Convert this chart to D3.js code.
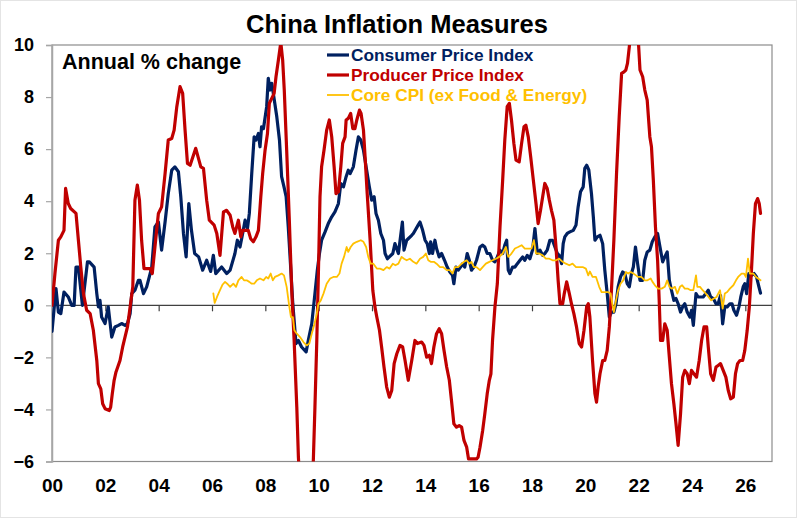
<!DOCTYPE html>
<html>
<head>
<meta charset="utf-8">
<script src="https://cdn.jsdelivr.net/npm/d3@7"></script>
<style>
  html, body { margin: 0; padding: 0; background: #fff; }
  svg { display: block; font-family: "Liberation Sans", Arial, sans-serif; }
</style>
</head>
<body>
<svg id="chart" width="797" height="518"></svg>
<script>
// ---- DATA (year offset from 2000, annual % change) ----
const cpi = [[0.0,-1.0],[0.15,0.64],[0.24,-0.26],[0.33,-0.32],[0.45,0.51],[0.61,0.32],[0.74,0.0],[0.83,0.0],[0.9,1.47],[0.99,1.47],[1.14,0.0],[1.33,1.67],[1.4,1.67],[1.58,1.47],[1.68,0.45],[1.74,-0.06],[1.8,0.19],[1.86,-0.45],[1.99,-0.7],[2.11,-0.06],[2.24,-1.22],[2.36,-0.83],[2.49,-0.77],[2.61,-0.7],[2.74,-0.77],[2.83,-0.7],[2.93,-0.32],[2.99,0.45],[3.11,0.58],[3.24,0.96],[3.3,0.96],[3.43,0.45],[3.55,0.71],[3.68,1.22],[3.74,1.47],[3.86,3.01],[3.99,3.2],[4.11,2.12],[4.24,3.2],[4.36,4.29],[4.49,5.19],[4.61,5.32],[4.74,5.13],[4.83,4.17],[4.93,2.76],[5.03,1.86],[5.13,3.91],[5.23,2.88],[5.35,1.99],[5.5,1.86],[5.65,1.35],[5.8,1.73],[5.95,1.3],[6.05,1.92],[6.14,1.22],[6.36,1.47],[6.55,1.22],[6.68,1.35],[6.86,1.99],[6.95,2.5],[7.05,2.24],[7.15,2.76],[7.24,3.27],[7.33,2.95],[7.4,3.53],[7.49,5.06],[7.58,6.47],[7.65,6.35],[7.74,6.6],[7.8,6.09],[7.86,6.86],[7.93,6.79],[8.05,7.63],[8.11,8.72],[8.18,8.27],[8.24,8.53],[8.3,8.14],[8.43,7.24],[8.53,6.35],[8.61,4.94],[8.7,4.55],[8.78,4.17],[8.86,3.01],[8.95,1.47],[9.03,0.06],[9.15,-1.47],[9.24,-1.35],[9.36,-1.6],[9.53,-1.79],[9.61,-1.35],[9.74,-0.71],[9.86,0.45],[9.95,1.35],[10.03,1.99],[10.11,2.5],[10.24,2.82],[10.36,3.14],[10.49,3.4],[10.61,3.59],[10.74,3.91],[10.83,4.68],[10.93,4.55],[11.03,4.94],[11.11,5.19],[11.18,5.06],[11.3,5.32],[11.4,5.96],[11.49,6.47],[11.58,6.35],[11.68,5.96],[11.8,5.19],[11.9,4.55],[11.99,4.04],[12.08,4.17],[12.15,3.53],[12.24,3.27],[12.33,2.76],[12.43,2.5],[12.49,1.99],[12.58,1.79],[12.78,1.99],[12.86,2.37],[12.99,1.99],[13.14,3.2],[13.2,2.12],[13.3,2.5],[13.49,2.69],[13.55,2.76],[13.73,3.08],[13.8,3.2],[13.9,2.88],[13.99,2.5],[14.07,2.37],[14.15,1.99],[14.2,2.44],[14.27,1.99],[14.36,2.5],[14.42,2.18],[14.52,1.86],[14.61,1.99],[14.72,1.73],[14.82,1.47],[14.92,1.28],[15.02,1.15],[15.07,0.83],[15.15,1.47],[15.23,1.35],[15.32,1.47],[15.4,1.6],[15.48,1.47],[15.57,1.99],[15.65,1.73],[15.73,1.35],[15.82,1.47],[15.92,1.73],[16.05,2.24],[16.15,2.31],[16.23,2.24],[16.32,1.99],[16.42,1.99],[16.52,1.73],[16.61,1.67],[16.7,1.86],[16.8,2.12],[16.9,1.99],[16.98,2.31],[17.05,2.5],[17.11,1.35],[17.17,1.22],[17.27,1.47],[17.36,1.47],[17.45,1.6],[17.55,1.73],[17.65,1.86],[17.73,1.73],[17.82,1.92],[17.92,1.79],[18.02,2.12],[18.11,2.95],[18.2,1.99],[18.3,2.12],[18.4,1.92],[18.48,1.99],[18.57,2.12],[18.67,2.5],[18.77,2.5],[18.86,2.24],[18.95,1.99],[19.02,1.92],[19.11,1.6],[19.17,2.37],[19.23,2.63],[19.32,2.76],[19.42,2.82],[19.55,2.88],[19.65,3.08],[19.73,3.78],[19.82,4.36],[19.92,4.55],[19.98,5.26],[20.05,5.38],[20.13,5.2],[20.23,4.29],[20.3,3.4],[20.36,2.5],[20.45,2.63],[20.55,2.69],[20.65,2.37],[20.73,1.35],[20.82,0.45],[20.9,-0.45],[20.98,-0.26],[21.07,-0.26],[21.15,0.06],[21.23,0.71],[21.32,1.09],[21.4,1.28],[21.48,1.22],[21.57,0.83],[21.65,0.71],[21.73,1.22],[21.8,1.47],[21.88,2.24],[21.96,1.6],[22.05,0.96],[22.15,0.96],[22.23,1.73],[22.32,2.05],[22.42,2.12],[22.51,2.44],[22.61,2.63],[22.71,2.76],[22.8,2.24],[22.9,1.67],[22.98,1.86],[23.07,2.05],[23.15,0.96],[23.23,0.58],[23.32,0.19],[23.4,0.26],[23.48,0.06],[23.57,-0.26],[23.65,-0.06],[23.73,0.06],[23.82,-0.26],[23.92,-0.45],[23.98,-0.19],[24.05,-0.77],[24.15,0.45],[24.23,0.32],[24.32,0.32],[24.42,0.32],[24.52,0.45],[24.61,0.58],[24.7,0.32],[24.8,0.26],[24.9,0.06],[24.98,0.06],[25.07,0.38],[25.15,-0.71],[25.23,-0.06],[25.32,-0.06],[25.42,0.06],[25.5,0.06],[25.57,-0.19],[25.67,-0.38],[25.76,-0.06],[25.83,0.32],[25.92,0.71],[25.98,0.83],[26.05,0.45],[26.13,1.22],[26.23,1.15],[26.33,1.22],[26.42,1.09],[26.51,0.71],[26.57,0.47]];

const ppi = [[0.0,0.0],[0.11,1.22],[0.24,2.5],[0.33,2.63],[0.45,2.88],[0.51,4.49],[0.61,3.91],[0.7,3.72],[0.9,3.53],[0.99,2.5],[1.08,1.47],[1.18,0.45],[1.3,-0.19],[1.43,-0.32],[1.55,-0.96],[1.68,-2.12],[1.74,-3.01],[1.83,-3.21],[1.9,-3.78],[1.99,-3.97],[2.15,-4.04],[2.2,-3.91],[2.26,-3.4],[2.33,-2.88],[2.4,-2.56],[2.55,-2.12],[2.65,-1.6],[2.83,-0.83],[2.93,-0.06],[3.03,0.71],[3.11,4.04],[3.2,4.62],[3.28,4.04],[3.36,2.5],[3.45,1.41],[3.68,1.41],[3.76,1.22],[3.86,2.24],[3.99,3.53],[4.11,3.78],[4.24,5.06],[4.36,6.35],[4.49,6.41],[4.58,6.73],[4.68,7.63],[4.8,8.4],[4.9,8.14],[4.99,6.73],[5.08,5.45],[5.18,5.38],[5.39,6.03],[5.58,5.32],[5.68,5.26],[5.8,4.04],[5.9,3.27],[6.08,3.08],[6.18,2.76],[6.3,1.92],[6.43,3.59],[6.55,3.65],[6.68,3.46],[6.78,3.0],[6.86,2.76],[6.99,3.27],[7.08,2.63],[7.15,2.88],[7.36,2.88],[7.45,2.56],[7.55,2.44],[7.65,2.63],[7.74,2.88],[7.83,4.17],[7.9,5.06],[7.99,5.96],[8.08,6.6],[8.15,7.76],[8.24,7.95],[8.33,8.14],[8.4,8.78],[8.49,9.42],[8.58,10.1],[8.65,9.42],[8.71,8.27],[8.8,5.96],[8.9,3.27],[8.99,0.58],[9.08,-1.35],[9.18,-3.91],[9.24,-5.83],[9.33,-7.6],[9.5,-8.2],[9.65,-7.8],[9.75,-7.0],[9.8,-5.96],[9.86,-3.91],[9.93,-1.35],[9.99,1.22],[10.05,4.17],[10.11,5.32],[10.2,5.96],[10.3,6.73],[10.4,7.12],[10.49,6.47],[10.58,5.32],[10.65,4.29],[10.74,4.36],[10.83,5.32],[10.9,6.22],[10.99,6.47],[11.03,7.12],[11.11,7.18],[11.2,7.37],[11.28,6.79],[11.36,6.79],[11.43,7.12],[11.53,7.5],[11.59,7.37],[11.68,6.73],[11.74,5.71],[11.82,4.29],[11.93,2.5],[12.03,0.58],[12.11,-0.06],[12.18,-0.45],[12.28,-0.96],[12.36,-1.6],[12.45,-2.37],[12.55,-3.14],[12.65,-3.53],[12.74,-3.27],[12.83,-2.24],[12.93,-1.86],[13.05,-1.54],[13.15,-1.6],[13.24,-2.12],[13.36,-2.88],[13.49,-2.12],[13.61,-1.35],[13.7,-1.47],[13.86,-1.41],[13.95,-1.54],[14.05,-1.99],[14.15,-1.92],[14.23,-2.24],[14.32,-1.6],[14.42,-1.09],[14.52,-0.9],[14.61,-1.09],[14.7,-1.73],[14.8,-2.37],[14.9,-2.88],[14.98,-3.65],[15.07,-4.55],[15.17,-4.68],[15.27,-4.62],[15.36,-4.68],[15.45,-5.19],[15.55,-5.45],[15.62,-5.9],[15.73,-5.9],[15.82,-5.9],[15.92,-5.9],[15.98,-5.83],[16.05,-5.45],[16.15,-4.81],[16.23,-4.17],[16.32,-3.4],[16.4,-2.88],[16.46,-2.63],[16.52,-1.35],[16.61,-0.06],[16.7,0.83],[16.8,3.01],[16.9,4.81],[16.98,6.35],[17.07,7.63],[17.15,7.76],[17.23,7.12],[17.32,6.22],[17.4,5.58],[17.52,5.51],[17.61,6.22],[17.7,6.86],[17.77,6.92],[17.86,6.47],[17.95,5.71],[18.05,4.81],[18.15,3.91],[18.23,3.14],[18.32,3.65],[18.4,4.17],[18.48,4.68],[18.57,4.49],[18.65,4.04],[18.73,3.65],[18.82,3.27],[18.9,2.24],[18.98,0.96],[19.05,0.06],[19.15,0.06],[19.21,0.45],[19.3,0.9],[19.4,0.45],[19.48,0.06],[19.57,-0.32],[19.67,-0.83],[19.77,-1.47],[19.86,-1.6],[19.95,-0.96],[20.05,-0.06],[20.11,0.06],[20.17,-0.45],[20.27,-2.12],[20.36,-3.4],[20.42,-3.72],[20.48,-3.14],[20.55,-2.63],[20.65,-2.12],[20.73,-2.12],[20.82,-1.73],[20.9,-0.83],[20.98,0.58],[21.07,2.5],[21.17,5.06],[21.27,7.24],[21.36,8.91],[21.45,8.97],[21.52,9.04],[21.58,9.29],[21.65,9.94],[21.72,10.7],[21.8,13.5],[21.9,12.9],[21.98,10.3],[22.05,9.04],[22.15,8.78],[22.23,8.27],[22.32,7.88],[22.42,6.47],[22.48,6.09],[22.55,4.81],[22.63,3.01],[22.71,1.73],[22.77,0.19],[22.82,-1.35],[22.9,-1.35],[22.98,-0.71],[23.07,-0.96],[23.15,-1.99],[23.23,-3.01],[23.32,-3.78],[23.4,-4.55],[23.48,-5.38],[23.57,-4.17],[23.65,-2.76],[23.73,-2.5],[23.82,-2.63],[23.9,-3.01],[23.98,-2.5],[24.07,-2.63],[24.17,-2.76],[24.27,-2.12],[24.36,-1.35],[24.45,-0.83],[24.55,-0.83],[24.61,-1.6],[24.7,-2.63],[24.8,-2.88],[24.9,-2.37],[24.98,-2.31],[25.07,-2.24],[25.17,-2.5],[25.27,-2.76],[25.36,-3.27],[25.45,-3.59],[25.55,-3.53],[25.63,-2.63],[25.71,-2.24],[25.8,-2.12],[25.9,-2.12],[25.98,-1.73],[26.07,-0.96],[26.15,-0.06],[26.23,1.35],[26.3,2.76],[26.38,3.91],[26.46,4.1],[26.52,3.91],[26.57,3.53]];

const coreCpi = [[6.05,0.46],[6.1,0.09],[6.2,0.35],[6.3,0.58],[6.4,0.8],[6.49,0.9],[6.57,0.83],[6.68,0.71],[6.8,0.83],[6.9,0.71],[6.99,0.96],[7.11,1.09],[7.2,0.96],[7.3,0.96],[7.4,0.9],[7.49,0.83],[7.58,0.83],[7.68,0.96],[7.8,1.03],[7.93,0.96],[8.03,1.09],[8.11,1.03],[8.2,1.22],[8.28,0.96],[8.36,1.09],[8.49,1.15],[8.61,1.22],[8.7,1.15],[8.8,0.71],[8.9,-0.06],[8.96,-0.45],[9.03,-0.45],[9.09,-0.96],[9.18,-1.09],[9.3,-1.22],[9.43,-1.41],[9.55,-1.54],[9.65,-1.47],[9.74,-1.09],[9.83,-0.77],[9.93,-0.32],[9.99,0.06],[10.08,0.19],[10.18,0.45],[10.3,0.83],[10.43,1.03],[10.55,1.09],[10.68,1.09],[10.78,1.22],[10.86,1.6],[10.95,1.86],[11.05,2.24],[11.11,2.05],[11.2,2.24],[11.3,2.37],[11.43,2.44],[11.58,2.5],[11.68,2.44],[11.78,2.24],[11.86,1.86],[11.95,1.6],[12.05,1.6],[12.18,1.41],[12.3,1.41],[12.43,1.35],[12.55,1.47],[12.66,1.41],[12.78,1.6],[12.88,1.54],[12.99,1.6],[13.11,1.86],[13.2,1.79],[13.3,1.73],[13.42,1.79],[13.55,1.67],[13.67,1.6],[13.8,1.79],[13.92,1.86],[14.02,1.99],[14.11,1.73],[14.2,1.67],[14.32,1.67],[14.42,1.6],[14.55,1.47],[14.67,1.47],[14.8,1.35],[14.92,1.35],[15.02,1.22],[15.11,1.47],[15.23,1.47],[15.36,1.6],[15.45,1.67],[15.55,1.73],[15.65,1.6],[15.73,1.67],[15.82,1.47],[15.92,1.47],[16.05,1.35],[16.15,1.47],[16.27,1.6],[16.4,1.67],[16.52,1.73],[16.65,1.79],[16.77,1.86],[16.9,1.99],[17.02,2.24],[17.11,1.86],[17.23,1.99],[17.36,2.18],[17.48,2.24],[17.61,2.31],[17.73,2.18],[17.86,2.18],[17.98,2.18],[18.07,2.5],[18.15,1.99],[18.27,1.99],[18.4,1.92],[18.52,1.79],[18.65,1.79],[18.77,1.73],[18.9,1.73],[19.02,1.79],[19.15,1.67],[19.27,1.6],[19.4,1.54],[19.52,1.6],[19.65,1.47],[19.77,1.47],[19.9,1.47],[20.02,1.41],[20.11,1.15],[20.17,1.3],[20.27,1.09],[20.4,1.09],[20.52,0.71],[20.61,0.51],[20.73,0.51],[20.85,0.51],[20.95,0.45],[21.02,0.0],[21.07,-0.26],[21.15,0.19],[21.23,0.58],[21.32,0.83],[21.42,0.96],[21.52,1.28],[21.61,1.22],[21.7,1.28],[21.8,1.22],[21.9,1.15],[21.98,1.09],[22.1,1.09],[22.23,0.96],[22.33,0.96],[22.45,1.03],[22.52,0.9],[22.61,0.77],[22.73,0.64],[22.86,0.64],[22.98,0.71],[23.07,0.96],[23.15,0.71],[23.25,0.64],[23.36,0.71],[23.45,0.45],[23.55,0.71],[23.63,0.77],[23.73,0.64],[23.85,0.64],[23.95,0.58],[24.05,0.58],[24.15,1.15],[24.2,0.71],[24.3,0.71],[24.4,0.58],[24.52,0.45],[24.62,0.32],[24.72,0.19],[24.82,0.26],[24.92,0.32],[25.05,0.58],[25.15,-0.13],[25.23,0.45],[25.32,0.51],[25.42,0.64],[25.55,0.77],[25.65,0.96],[25.73,1.09],[25.86,1.22],[25.95,1.22],[26.02,1.09],[26.1,1.79],[26.17,1.22],[26.3,1.22],[26.4,1.09],[26.48,1.03],[26.57,0.96]];

const xTickValues = [0,2,4,6,8,10,12,14,16,18,20,22,24,26];
const xTickLabels = ["00","02","04","06","08","10","12","14","16","18","20","22","24","26"];
const yTickValues = [-6,-4,-2,0,2,4,6,8,10];
const seriesNames = ["Consumer Price Index","Producer Price Index","Core CPI (ex Food & Energy)"];
const seriesColors = ["#002060","#C00000","#FFC000"];

// ---- LAYOUT ----
const svg = d3.select("#chart");
const W = 797, H = 518;
const plot = {left: 52, right: 772, top: 45, bottom: 461.5};

svg.append("rect").attr("x",0.5).attr("y",0.5).attr("width",W-1).attr("height",H-1)
  .attr("fill","#fff").attr("stroke","#e4e4e4");

const x = d3.scaleLinear().domain([0, 27]).range([plot.left, plot.right]);
const y = d3.scaleLinear().domain([-6, 10]).range([plot.bottom, plot.top]);

// Title
svg.append("text").attr("x", 397).attr("y", 32.5).attr("text-anchor","middle")
  .attr("font-size", 25.5).attr("font-weight","bold").attr("fill","#000")
  .text("China Inflation Measures");

// Plot frame
svg.append("rect").attr("x",plot.left).attr("y",plot.top)
  .attr("width",plot.right-plot.left).attr("height",plot.bottom-plot.top)
  .attr("fill","none").attr("stroke","#8c8c8c").attr("stroke-width",1.2);

// Y axis
const yAxis = d3.axisLeft(y).tickValues(yTickValues).tickSize(6).tickPadding(12).tickFormat(d3.format("d"));
const gy = svg.append("g").attr("transform",`translate(${plot.left},0)`).call(yAxis);
gy.select(".domain").attr("stroke","#a6a6a6").attr("stroke-width",1.5);
gy.selectAll(".tick line").attr("stroke","#a6a6a6").attr("stroke-width",1.2);
gy.selectAll(".tick text").attr("font-size",18).attr("font-weight","bold")
  .attr("fill","#000").attr("font-family","'Liberation Sans', Arial, sans-serif");

// Zero line with x ticks
const xAxis = d3.axisBottom(x).tickValues(xTickValues.filter(d => d > 0)).tickSize(6).tickFormat("");
const gx = svg.append("g").attr("transform",`translate(0,${y(0)})`).call(xAxis);
gx.select(".domain").remove();
gx.selectAll(".tick line").attr("stroke","#404040").attr("stroke-width",1.2);
svg.append("line").attr("x1",plot.left).attr("x2",plot.right).attr("y1",y(0)).attr("y2",y(0))
  .attr("stroke","#404040").attr("stroke-width",1.3);

// X labels below plot
const gxl = svg.append("g").attr("transform",`translate(0,${plot.bottom})`)
  .call(d3.axisBottom(x).tickValues(xTickValues).tickSize(0).tickPadding(17)
    .tickFormat((d,i) => xTickLabels[i]));
gxl.select(".domain").remove();
gxl.selectAll(".tick text").attr("font-size",19).attr("font-weight","bold")
  .attr("fill","#000").attr("font-family","'Liberation Sans', Arial, sans-serif");

// Clip
svg.append("clipPath").attr("id","plotClip").append("rect")
  .attr("x",plot.left).attr("y",plot.top)
  .attr("width",plot.right-plot.left).attr("height",plot.bottom-plot.top);

const line = d3.line().x(d => x(d[0])).y(d => y(d[1])).curve(d3.curveLinear);
const gLines = svg.append("g").attr("clip-path","url(#plotClip)");
const series = [cpi, ppi, coreCpi];
const widths = [3.2, 3.2, 1.8];
series.forEach((s,i) => {
  gLines.append("path").datum(s).attr("d", line)
    .attr("fill","none").attr("stroke",seriesColors[i]).attr("stroke-width",widths[i])
    .attr("stroke-linejoin","round").attr("stroke-linecap","round");
});

// Annotation
svg.append("text").attr("x",62).attr("y",69).attr("font-size",21.5).attr("font-weight","bold")
  .attr("fill","#000").text("Annual % change");

// Legend
const legend = svg.append("g");
seriesNames.forEach((name,i) => {
  const cy = 55 + i*20;
  legend.append("line").attr("x1",327).attr("x2",349).attr("y1",cy).attr("y2",cy)
    .attr("stroke",seriesColors[i]).attr("stroke-width", i<2 ? 3.2 : 1.8);
  legend.append("text").attr("x",351).attr("y",cy+6).attr("font-size",17.3)
    .attr("font-weight","bold").attr("fill",seriesColors[i]).text(name);
});
</script>
</body>
</html>
